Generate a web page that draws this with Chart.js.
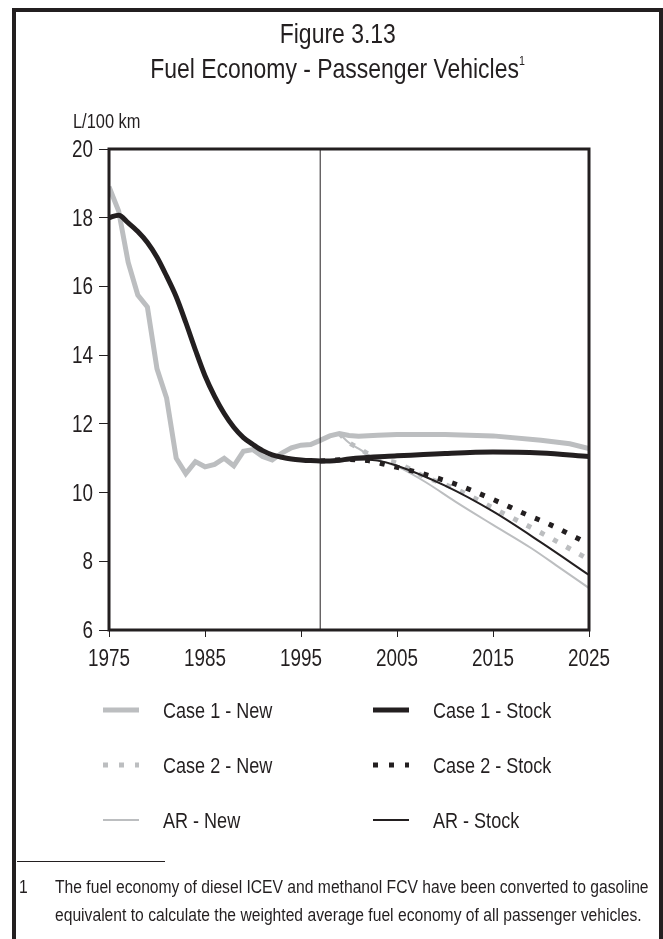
<!DOCTYPE html>
<html>
<head>
<meta charset="utf-8">
<script src="https://cdn.jsdelivr.net/npm/chart.js@4.4.1/dist/chart.umd.min.js"></script>
<style>
  body { margin: 0; background: #fff; }
  #page { position: relative; width: 663px; height: 939px; overflow: hidden;
          font-family: "Liberation Sans", Arial, sans-serif; color: #231f20; }
  #frame { position: absolute; left: 12px; top: 8px; width: 651px; height: 960px;
           border: 4px solid #231f20; border-bottom: none; box-sizing: border-box; }
  #chart { position: absolute; left: 0; top: 0; }
  .n { display: inline-block; white-space: nowrap; transform: scaleX(0.82); transform-origin: left center; }
  .title { position: absolute; left: 12px; width: 651px; text-align: center; font-size: 28px; line-height: 1; }
  .title .n { transform-origin: center center; }
  .title sup { font-size: 13px; vertical-align: 13px; line-height: 0; }
  #unit { position: absolute; left: 73px; top: 111px; font-size: 20px; line-height: 1; }
  #rule { position: absolute; left: 17px; top: 861px; width: 148px; border-top: 1px solid #231f20; }
  .note { position: absolute; font-size: 19.1px; line-height: 28px; }
</style>
</head>
<body>
<div id="page">
  <div id="frame"></div>
  <canvas id="chart" width="663" height="939"></canvas>
  <div class="title" style="top:20px"><span class="n">Figure 3.13</span></div>
  <div class="title" style="top:55px"><span class="n">Fuel Economy - Passenger Vehicles<sup>1</sup></span></div>
  <div id="unit"><span class="n">L/100 km</span></div>
  <div id="rule"></div>
  <div class="note" style="left:19px; top:873px"><span class="n">1</span></div>
  <div class="note" style="left:55px; top:873px"><span class="n">The fuel economy of diesel ICEV and methanol FCV have been converted to gasoline</span><br><span class="n">equivalent to calculate the weighted average fuel economy of all passenger vehicles.</span></div>
</div>
<script>
// x axis tick labels and y range
var xTicks = [1975, 1985, 1995, 2005, 2015, 2025];
var yMin = 6, yMax = 20, yStep = 2;
var baseYear = 1997;

// Case 1 - New (history + projection)
var case1NewYears = [1975, 1976, 1977, 1978, 1979, 1980, 1981, 1982, 1983, 1984, 1985, 1986, 1987, 1988, 1989, 1990, 1991, 1992, 1993, 1994, 1995, 1996, 1997, 1998, 1999, 2000, 2001, 2003, 2005, 2010, 2015, 2020, 2023, 2025];
var case1NewVals  = [18.9, 18.2, 16.7, 15.75, 15.4, 13.6, 12.75, 11.0, 10.55, 10.9, 10.75, 10.82, 11.0, 10.78, 11.2, 11.25, 11.05, 10.95, 11.15, 11.3, 11.38, 11.4, 11.52, 11.65, 11.72, 11.66, 11.64, 11.67, 11.69, 11.69, 11.65, 11.52, 11.42, 11.28];

// Case 1 - Stock
var case1StockYears = [1975, 1976, 1977, 1978, 1979, 1980, 1981, 1982, 1983, 1984, 1985, 1986, 1987, 1988, 1989, 1990, 1991, 1992, 1993, 1994, 1995, 1996, 1997, 1998, 1999, 2000, 2005, 2010, 2015, 2020, 2025];
var case1StockVals  = [18.0, 18.07, 17.85, 17.6, 17.28, 16.85, 16.3, 15.7, 14.95, 14.15, 13.4, 12.8, 12.3, 11.9, 11.6, 11.4, 11.22, 11.1, 11.03, 10.98, 10.95, 10.93, 10.92, 10.92, 10.94, 10.98, 11.07, 11.14, 11.18, 11.15, 11.05];

// Case 2 - New
var case2NewYears = [1999, 2000, 2001, 2002, 2003, 2005, 2008, 2011, 2015, 2020, 2025];
var case2NewVals  = [11.72, 11.45, 11.3, 11.12, 10.98, 10.85, 10.45, 10.12, 9.55, 8.83, 8.05];

// Case 2 - Stock
var case2StockYears = [1997, 2000, 2002, 2004, 2007, 2010, 2012, 2015, 2018, 2021, 2025];
var case2StockVals  = [10.92, 10.96, 10.93, 10.8, 10.6, 10.35, 10.15, 9.8, 9.42, 9.06, 8.5];

// AR - New
var arNewYears = [1999, 2000, 2001, 2002, 2003, 2005, 2008, 2011, 2013, 2015, 2019, 2022, 2025];
var arNewVals  = [11.72, 11.45, 11.28, 11.1, 10.95, 10.76, 10.3, 9.75, 9.4, 9.06, 8.38, 7.8, 7.22];

// AR - Stock
var arStockYears = [1997, 2000, 2003, 2005, 2010, 2015, 2020, 2025];
var arStockVals  = [10.92, 10.97, 10.93, 10.78, 10.2, 9.45, 8.55, 7.6];

var GREY = "#bcbec0";
var BLACK = "#231f20";
var FONT = "'Liberation Sans', Arial, sans-serif";

function pts(xs, ys) {
    return xs.map(function (x, i) { return { x: x, y: ys[i] }; });
}

// narrow text: regular sans squeezed to a condensed width
function narrowText(ctx, txt, x, y, align, size) {
    ctx.save();
    ctx.font = size + "px " + FONT;
    ctx.fillStyle = BLACK;
    ctx.textAlign = align;
    ctx.textBaseline = "alphabetic";
    ctx.translate(x, y);
    ctx.scale(0.82, 1);
    ctx.fillText(txt, 0, 0);
    ctx.restore();
}

var datasets = [
    { label: "Case 1 - New", data: pts(case1NewYears, case1NewVals), borderColor: GREY, borderWidth: 5, tension: 0, order: 6 },
    { label: "Case 1 - Stock", data: pts(case1StockYears, case1StockVals), borderColor: BLACK, borderWidth: 5, cubicInterpolationMode: "monotone", order: 1 },
    { label: "Case 2 - New", data: pts(case2NewYears, case2NewVals), borderColor: GREY, borderWidth: 5, borderDash: [5, 10], cubicInterpolationMode: "monotone", order: 4 },
    { label: "Case 2 - Stock", data: pts(case2StockYears, case2StockVals), borderColor: BLACK, borderWidth: 5, borderDash: [5, 10], cubicInterpolationMode: "monotone", order: 2 },
    { label: "AR - New", data: pts(arNewYears, arNewVals), borderColor: GREY, borderWidth: 2, cubicInterpolationMode: "monotone", order: 5 },
    { label: "AR - Stock", data: pts(arStockYears, arStockVals), borderColor: BLACK, borderWidth: 2, cubicInterpolationMode: "monotone", order: 3 }
];
datasets.forEach(function (d) { d.pointRadius = 0; d.fill = false; d.borderCapStyle = "butt"; });

// plot box, 1997 line, tick labels and the two-column legend
var extras = {
    id: "extras",
    afterDatasetsDraw: function (chart) {
        var ctx = chart.ctx, a = chart.chartArea;
        var xs = chart.scales.x, ys = chart.scales.y;
        var x97 = xs.getPixelForValue(baseYear);
        ctx.save();
        ctx.strokeStyle = BLACK;
        ctx.lineWidth = 1;
        ctx.beginPath();
        ctx.moveTo(x97, a.top);
        ctx.lineTo(x97, a.bottom);
        ctx.stroke();
        ctx.lineWidth = 3;
        ctx.strokeRect(a.left, a.top, a.right - a.left, a.bottom - a.top);

        xs.ticks.forEach(function (t) {
            narrowText(ctx, String(t.value), xs.getPixelForValue(t.value), a.bottom + 36, "center", 23);
        });
        ys.ticks.forEach(function (t) {
            narrowText(ctx, String(t.value), a.left - 16, ys.getPixelForValue(t.value) + 8, "right", 23);
        });

        var rows = [710, 765, 820];
        var cols = [{ x0: 103, x1: 139, tx: 163 }, { x0: 373, x1: 409, tx: 433 }];
        chart.data.datasets.forEach(function (d, i) {
            var c = cols[i % 2], y = rows[Math.floor(i / 2)];
            ctx.strokeStyle = d.borderColor;
            ctx.lineWidth = d.borderWidth;
            ctx.setLineDash(d.borderDash ? [5, 11] : []);
            ctx.beginPath();
            ctx.moveTo(c.x0, y);
            ctx.lineTo(c.x1, y);
            ctx.stroke();
            ctx.setLineDash([]);
            narrowText(ctx, d.label, c.tx, y + 8, "left", 22);
        });
        ctx.restore();
    }
};

new Chart(document.getElementById("chart"), {
    type: "line",
    data: { datasets: datasets },
    options: {
        responsive: false,
        animation: false,
        devicePixelRatio: 1,
        layout: { padding: { left: 0, top: 149, right: 74, bottom: 269 } },
        plugins: { legend: { display: false }, tooltip: { enabled: false } },
        scales: {
            x: {
                type: "linear",
                min: xTicks[0],
                max: xTicks[xTicks.length - 1],
                afterBuildTicks: function (s) { s.ticks = xTicks.map(function (v) { return { value: v }; }); },
                afterFit: function (s) { s.height = 40; },
                border: { display: false },
                grid: { drawOnChartArea: false, drawTicks: true, tickLength: 7, color: BLACK, lineWidth: 1 },
                ticks: { display: false, autoSkip: false }
            },
            y: {
                min: yMin,
                max: yMax,
                afterFit: function (s) { s.width = 109; },
                border: { display: false },
                grid: { drawOnChartArea: false, drawTicks: true, tickLength: 10, color: BLACK, lineWidth: 1 },
                ticks: { display: false, stepSize: yStep }
            }
        }
    },
    plugins: [extras]
});
</script>
</body>
</html>
